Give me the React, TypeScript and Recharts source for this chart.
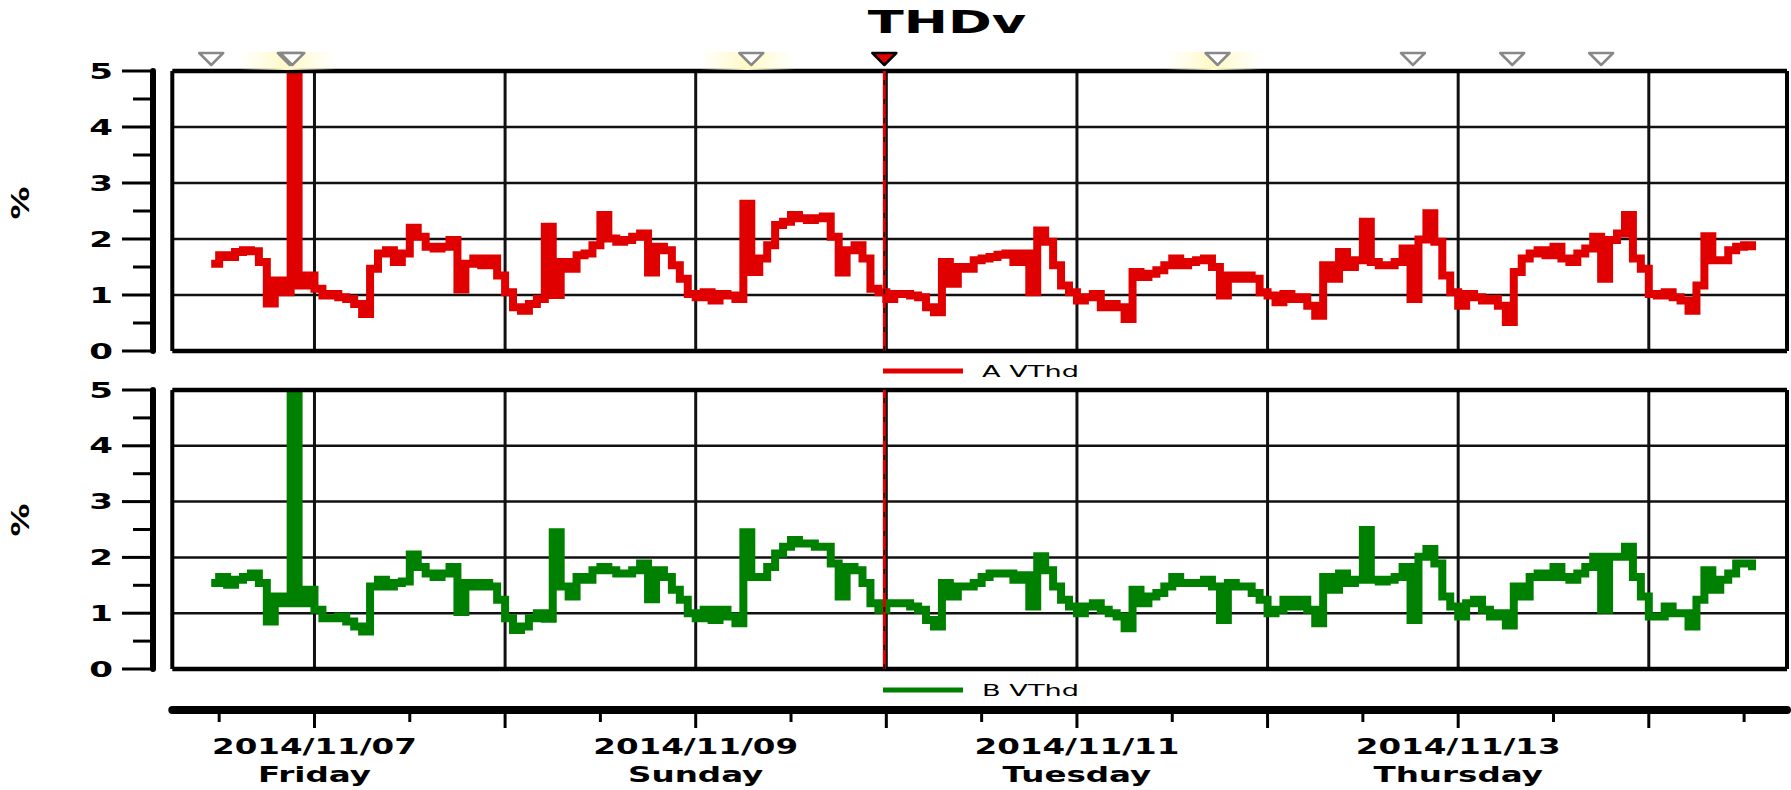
import { LineChart, Line, XAxis, YAxis, ReferenceLine, ReferenceDot } from 'recharts'

const HOUR = 3600 * 1000
const DAY0 = Date.UTC(2014, 10, 7) // 2014/11/07 00:00
const FIRST_HOUR = -13

// A VThd (%), one reading per hour from FIRST_HOUR
const thdA = [
  1.56, 1.71, 1.68, 1.77, 1.80, 1.78, 1.59, 0.85, 1.26, 1.05, 5.0, 1.17,
  1.35, 1.11, 0.99, 1.02, 0.96, 0.93, 0.84, 0.66, 1.47, 1.74, 1.80, 1.59,
  1.74, 2.20, 2.04, 1.86, 1.83, 1.86, 1.98, 1.10, 1.56, 1.65, 1.53, 1.65,
  1.35, 1.05, 0.78, 0.72, 0.84, 0.93, 2.22, 1.00, 1.59, 1.47, 1.71, 1.74,
  1.89, 2.43, 2.01, 1.95, 1.98, 2.04, 2.10, 1.40, 1.86, 1.80, 1.53, 1.29,
  1.02, 0.96, 1.05, 0.90, 1.02, 0.99, 0.93, 2.63, 1.41, 1.65, 1.89, 2.25,
  2.31, 2.43, 2.37, 2.34, 2.37, 2.40, 2.04, 1.40, 1.80, 1.89, 1.65, 1.11,
  1.05, 0.93, 1.02, 1.02, 0.99, 0.96, 0.78, 0.69, 1.59, 1.20, 1.50, 1.47,
  1.62, 1.65, 1.68, 1.72, 1.74, 1.59, 1.74, 1.05, 2.15, 1.95, 1.53, 1.17,
  1.05, 0.90, 0.96, 1.02, 0.78, 0.84, 0.78, 0.57, 1.41, 1.32, 1.38, 1.44,
  1.53, 1.65, 1.53, 1.59, 1.62, 1.65, 1.50, 0.99, 1.35, 1.29, 1.35, 1.29,
  1.05, 0.99, 0.87, 1.02, 0.93, 0.96, 0.81, 0.63, 1.53, 1.29, 1.77, 1.50,
  1.62, 2.31, 1.59, 1.53, 1.53, 1.59, 1.83, 0.93, 1.99, 2.46, 1.95, 1.35,
  1.05, 0.81, 1.02, 0.96, 0.90, 0.93, 0.81, 0.52, 1.41, 1.65, 1.74, 1.80,
  1.71, 1.86, 1.65, 1.59, 1.74, 1.83, 2.04, 1.29, 1.98, 2.10, 2.43, 1.65,
  1.47, 1.02, 0.99, 1.05, 0.96, 0.90, 0.72, 1.17, 2.05, 1.62, 1.62, 1.80,
  1.86, 1.89, 1.80,
]

// B VThd (%)
const thdB = [
  1.54, 1.65, 1.51, 1.60, 1.65, 1.71, 1.54, 0.85, 1.30, 1.18, 5.0, 1.18,
  1.42, 1.06, 0.91, 0.91, 0.94, 0.85, 0.76, 0.67, 1.48, 1.60, 1.48, 1.54,
  1.57, 2.05, 1.83, 1.71, 1.65, 1.71, 1.83, 1.02, 1.54, 1.48, 1.54, 1.48,
  1.24, 0.91, 0.70, 0.76, 0.91, 1.00, 0.90, 2.45, 1.48, 1.30, 1.65, 1.60,
  1.77, 1.83, 1.77, 1.71, 1.71, 1.77, 1.89, 1.25, 1.77, 1.65, 1.42, 1.24,
  1.00, 0.91, 1.06, 0.88, 1.06, 0.94, 0.82, 2.45, 1.65, 1.65, 1.83, 2.07,
  2.19, 2.31, 2.25, 2.25, 2.19, 2.19, 1.89, 1.30, 1.83, 1.77, 1.54, 1.18,
  1.06, 1.18, 1.18, 1.18, 1.12, 1.06, 0.88, 0.76, 1.54, 1.30, 1.48, 1.48,
  1.54, 1.65, 1.71, 1.71, 1.71, 1.60, 1.68, 1.12, 2.02, 1.77, 1.48, 1.24,
  1.12, 1.00, 1.12, 1.18, 1.06, 1.00, 0.94, 0.73, 1.42, 1.18, 1.30, 1.36,
  1.48, 1.65, 1.54, 1.54, 1.54, 1.60, 1.48, 0.88, 1.54, 1.48, 1.48, 1.36,
  1.24, 1.00, 1.06, 1.24, 1.12, 1.24, 1.06, 0.82, 1.65, 1.42, 1.71, 1.54,
  1.60, 2.49, 1.60, 1.57, 1.60, 1.65, 1.83, 0.88, 2.01, 2.15, 1.89, 1.30,
  1.12, 0.94, 1.18, 1.24, 1.06, 0.94, 1.00, 0.78, 1.48, 1.30, 1.65, 1.71,
  1.65, 1.83, 1.65, 1.60, 1.71, 1.83, 2.01, 1.06, 2.01, 2.01, 2.19, 1.65,
  1.30, 0.94, 0.94, 1.12, 1.00, 1.00, 0.76, 1.24, 1.77, 1.42, 1.60, 1.71,
  1.89, 1.89, 1.77,
]

const viewHours = [-17.9, 185.4]
const eventHours = [-13, -3.1, -2.8, 55, 113.7, 138.3, 150.8, 162]
const glowHours = [-2.9, 55, 113.7]
const cursorHour = 71.75
const dayGridHours = [0, 24, 48, 72, 96, 120, 144, 168]
const timeTickHours = [-12, 0, 12, 24, 36, 48, 60, 72, 84, 96, 108, 120, 132, 144, 156, 168, 180]
const valueTicks = [0, 0.5, 1, 1.5, 2, 2.5, 3, 3.5, 4, 4.5, 5]
const gridValues = [1, 2, 3, 4]
const dayNames = ['Sunday', 'Monday', 'Tuesday', 'Wednesday', 'Thursday', 'Friday', 'Saturday']

const at = (h: number) => DAY0 + h * HOUR
const rows = thdA.map((a, i) => ({ t: at(FIRST_HOUR + i), a, b: thdB[i] }))
const domainX = [at(viewHours[0]), at(viewHours[1])]

const RED = '#e00000'
const GREEN = '#008000'
const FONT = '"DejaVu Sans", Verdana, sans-serif'
const W = 1791

function ValueTick({ x, y, payload }: any) {
  const v = payload.value
  const major = Number.isInteger(v)
  return (
    <g>
      <line x1={x - (major ? 31 : 20)} x2={x} y1={y} y2={y} stroke="#000" strokeWidth={3} />
      {major && (
        <text transform={`translate(${x - 52},${y}) scale(1.55,1)`} textAnchor="middle" dominantBaseline="central"
          fontFamily={FONT} fontWeight="bold" fontSize={22} fill="#000">{v}</text>
      )}
    </g>
  )
}

function TimeTick({ x, y, payload }: any) {
  const h = Math.round((payload.value - DAY0) / HOUR)
  const major = h % 24 === 0
  const labelled = major && (h / 24) % 2 === 0
  const d = new Date(payload.value)
  const pad = (n: number) => String(n).padStart(2, '0')
  const date = `${d.getUTCFullYear()}/${pad(d.getUTCMonth() + 1)}/${pad(d.getUTCDate())}`
  return (
    <g>
      <line x1={x} x2={x} y1={y} y2={y + (major ? 18 : 12)} stroke="#000" strokeWidth={3} />
      {labelled && (
        <>
          <text transform={`translate(${x},${y + 37}) scale(1.55,1)`} textAnchor="middle" dominantBaseline="central"
            fontFamily={FONT} fontWeight="bold" fontSize={21} fill="#000">{date}</text>
          <text transform={`translate(${x},${y + 65}) scale(1.55,1)`} textAnchor="middle" dominantBaseline="central"
            fontFamily={FONT} fontWeight="bold" fontSize={21} fill="#000">{dayNames[d.getUTCDay()]}</text>
        </>
      )}
    </g>
  )
}

function EventMarker({ cx, cy, current }: any) {
  return (
    <polygon points={`${cx - 12},${cy - 18} ${cx + 12},${cy - 18} ${cx},${cy - 6}`}
      fill={current ? RED : '#fff'} stroke={current ? '#000' : '#888'} strokeWidth={2.5} strokeLinejoin="round" />
  )
}

function Glow({ cx, cy, id }: any) {
  return (
    <g>
      <defs>
        <linearGradient id={id} x1="0" x2="1" y1="0" y2="0">
          <stop offset="0" stopColor="#fffbd0" stopOpacity={0} />
          <stop offset="0.5" stopColor="#fff9c4" stopOpacity={1} />
          <stop offset="1" stopColor="#fffbd0" stopOpacity={0} />
        </linearGradient>
      </defs>
      <rect x={cx - 52} y={cy - 19} width={96} height={18} fill={`url(#${id})`} />
    </g>
  )
}

// grid and frame drawn through the axes' scales
function gridLines(xId: string) {
  return [
    ...gridValues.map((v) => (
      <ReferenceLine key={`h${v}`} xAxisId={xId} yAxisId="s" y={v} stroke="#111" strokeWidth={2.5} />
    )),
    ...dayGridHours.map((h) => (
      <ReferenceLine key={`d${h}`} xAxisId={xId} yAxisId="s" x={at(h)} stroke="#111" strokeWidth={3} />
    )),
  ]
}

function frameLines(xId: string) {
  return [
    <ReferenceLine key="f0" xAxisId={xId} yAxisId="s" y={0} stroke="#000" strokeWidth={4.5} />,
    <ReferenceLine key="f5" xAxisId={xId} yAxisId="s" y={5} stroke="#000" strokeWidth={4.5} />,
    <ReferenceLine key="fl" xAxisId={xId} yAxisId="s" x={domainX[0]} stroke="#000" strokeWidth={4} />,
    <ReferenceLine key="fr" xAxisId={xId} yAxisId="s" x={domainX[1]} stroke="#000" strokeWidth={4} />,
    <ReferenceLine key="cr" xAxisId={xId} yAxisId="s" x={at(cursorHour)} stroke={RED} strokeWidth={3} />,
    <ReferenceLine key="cd" xAxisId={xId} yAxisId="s" x={at(cursorHour)} stroke="#000" strokeWidth={1.5} strokeDasharray="5 14" />,
  ]
}

const yAxes = [
  <YAxis key="pad" yAxisId="pad" type="number" domain={[0, 5]} width={19.3}
    tick={false} axisLine={false} tickLine={false} />,
  <YAxis key="s" yAxisId="s" type="number" domain={[0, 5]} ticks={valueTicks} interval={0} width={153}
    tickSize={0} tickMargin={0} tickLine={false} tick={<ValueTick />} allowDataOverflow
    axisLine={{ stroke: '#000', strokeWidth: 6, strokeLinecap: 'round' }} />,
]

export default function App() {
  return (
    <div style={{ position: 'absolute', left: 0, top: 0, width: W, height: 790, background: '#fff', fontFamily: FONT }}>
      <div style={{ position: 'absolute', left: 0, top: 0 }}>
        <LineChart width={W} height={378} data={rows} margin={{ top: 71, right: 4, bottom: 27, left: 0 }}>
          <XAxis xAxisId="t" dataKey="t" type="number" domain={domainX} ticks={dayGridHours.map(at)}
            height={0} tick={false} axisLine={false} tickLine={false} allowDataOverflow />
          {yAxes}
          {gridLines('t')}
          <Line xAxisId="t" yAxisId="s" type="stepAfter" dataKey="a" stroke={RED} strokeWidth={8}
            dot={false} activeDot={false} isAnimationActive={false} />
          {frameLines('t')}
          {glowHours.map((h, i) => (
            <ReferenceDot key={`g${i}`} xAxisId="t" yAxisId="s" x={at(h)} y={5} ifOverflow="visible"
              shape={(p: any) => <Glow cx={p.cx} cy={p.cy} id={`glow${i}`} />} />
          ))}
          {eventHours.map((h, i) => (
            <ReferenceDot key={`e${i}`} xAxisId="t" yAxisId="s" x={at(h)} y={5} ifOverflow="visible"
              shape={(p: any) => <EventMarker cx={p.cx} cy={p.cy} />} />
          ))}
          <ReferenceDot xAxisId="t" yAxisId="s" x={at(cursorHour)} y={5} ifOverflow="visible"
            shape={(p: any) => <EventMarker cx={p.cx} cy={p.cy} current />} />
        </LineChart>
      </div>
      <div style={{ position: 'absolute', left: 0, top: 372 }}>
        <LineChart width={W} height={418} data={rows} margin={{ top: 18, right: 4, bottom: 0, left: 0 }}>
          <XAxis xAxisId="pad" type="number" domain={domainX} height={41}
            tick={false} axisLine={false} tickLine={false} />
          <XAxis xAxisId="time" dataKey="t" type="number" domain={domainX} ticks={timeTickHours.map(at)} interval={0}
            height={80} tickSize={0} tickMargin={0} tickLine={false} tick={<TimeTick />} allowDataOverflow
            axisLine={{ stroke: '#000', strokeWidth: 8, strokeLinecap: 'round' }} />
          {yAxes}
          {gridLines('time')}
          <Line xAxisId="time" yAxisId="s" type="stepAfter" dataKey="b" stroke={GREEN} strokeWidth={8}
            dot={false} activeDot={false} isAnimationActive={false} />
          {frameLines('time')}
        </LineChart>
      </div>
      <svg width={W} height={790} style={{ position: 'absolute', left: 0, top: 0, pointerEvents: 'none' }}>
        <text transform="translate(947,22) scale(1.65,1)" textAnchor="middle" dominantBaseline="central"
          fontFamily={FONT} fontWeight="bold" fontSize={32} fill="#000">THDv</text>
        <text transform="translate(21,203) rotate(-90) scale(1.5,1.1)" textAnchor="middle" dominantBaseline="central"
          fontFamily={FONT} fontWeight="bold" fontSize={22} fill="#000">%</text>
        <text transform="translate(21,520) rotate(-90) scale(1.5,1.1)" textAnchor="middle" dominantBaseline="central"
          fontFamily={FONT} fontWeight="bold" fontSize={22} fill="#000">%</text>
        <line x1={883} x2={963} y1={371} y2={371} stroke={RED} strokeWidth={5} />
        <text transform="translate(982,371) scale(1.7,1)" dominantBaseline="central"
          fontFamily={FONT} fontSize={16} fill="#000">A VThd</text>
        <line x1={883} x2={963} y1={690} y2={690} stroke={GREEN} strokeWidth={5} />
        <text transform="translate(982,690) scale(1.7,1)" dominantBaseline="central"
          fontFamily={FONT} fontSize={16} fill="#000">B VThd</text>
      </svg>
    </div>
  )
}
